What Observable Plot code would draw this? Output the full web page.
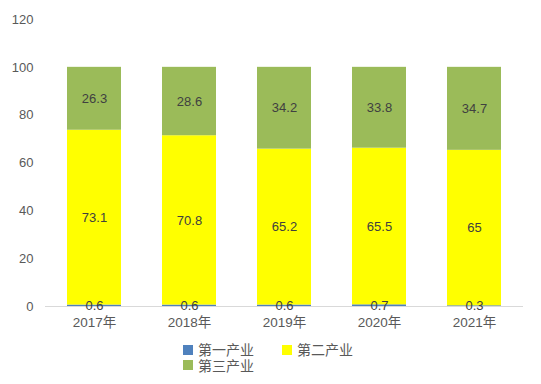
<!DOCTYPE html>
<html><head><meta charset="utf-8">
<script src="https://cdn.jsdelivr.net/npm/d3@7"></script>
<script src="https://cdn.jsdelivr.net/npm/@observablehq/plot@0.6"></script>
<style>
body{margin:0;background:#fff;font-family:"Liberation Sans","Noto Sans CJK SC",sans-serif;}
#chart{width:541px;height:384px;position:relative;}
.legend{position:absolute;left:183px;top:342px;display:grid;grid-template-columns:99px 80px;row-gap:0px;font-family:"Noto Sans CJK SC",sans-serif;font-size:14px;line-height:15px;color:#595959;}
.legend div{display:flex;align-items:center;height:15.5px;}
.legend span.sw{display:inline-block;width:10px;height:10px;margin-right:5px;}
</style></head>
<body><div id="chart"></div>
<script>
const years = ["2017年","2018年","2019年","2020年","2021年"];
const seriesNames = ["第一产业","第二产业","第三产业"];
const primary = [0.6,0.6,0.6,0.7,0.3];
const secondary = [73.1,70.8,65.2,65.5,65];
const tertiary = [26.3,28.6,34.2,33.8,34.7];
const colors = ["#4f81bd","#ffff00","#9bbb59"];
const yTicks = [0,20,40,60,80,100,120];

const seriesVals = [primary, secondary, tertiary];
const data = [];
years.forEach((y,i)=>seriesNames.forEach((s,j)=>data.push({year:y, series:s, value:seriesVals[j][i]})));

const plot = Plot.plot({
  width:541, height:341,
  marginLeft:45, marginRight:18, marginTop:19, marginBottom:35,
  style:{fontFamily:"'Liberation Sans','Noto Sans CJK SC',sans-serif", fontSize:"13px", color:"#595959"},
  x:{domain:years, paddingInner:0.435, paddingOuter:0.2175, label:null},
  y:{domain:[0,120], label:null},
  color:{domain:seriesNames, range:colors},
  marks:[
    Plot.barY(data, {x:"year", y:"value", fill:"series", z:"series", order:seriesNames}),
    Plot.ruleY([0], {stroke:"#d9d9d9", strokeWidth:1}),
    Plot.text(data, Plot.stackY({x:"year", y:"value", z:"series", order:seriesNames, text:d=>String(d.value), fill:"#404040", fontSize:13})),
    Plot.axisY({ticks:yTicks, tickSize:0, tickPadding:12, label:null, fontSize:13}),
    Plot.axisX({tickSize:0, tickPadding:11, label:null, fontSize:13.5})
  ]
});
const chart = document.getElementById("chart");
chart.appendChild(plot);
const leg = document.createElement("div");
leg.className="legend";
seriesNames.forEach((s,i)=>{
  const d=document.createElement("div");
  d.innerHTML=`<span class="sw" style="background:${colors[i]}"></span>${s}`;
  leg.appendChild(d);
});
chart.appendChild(leg);
</script></body></html>
